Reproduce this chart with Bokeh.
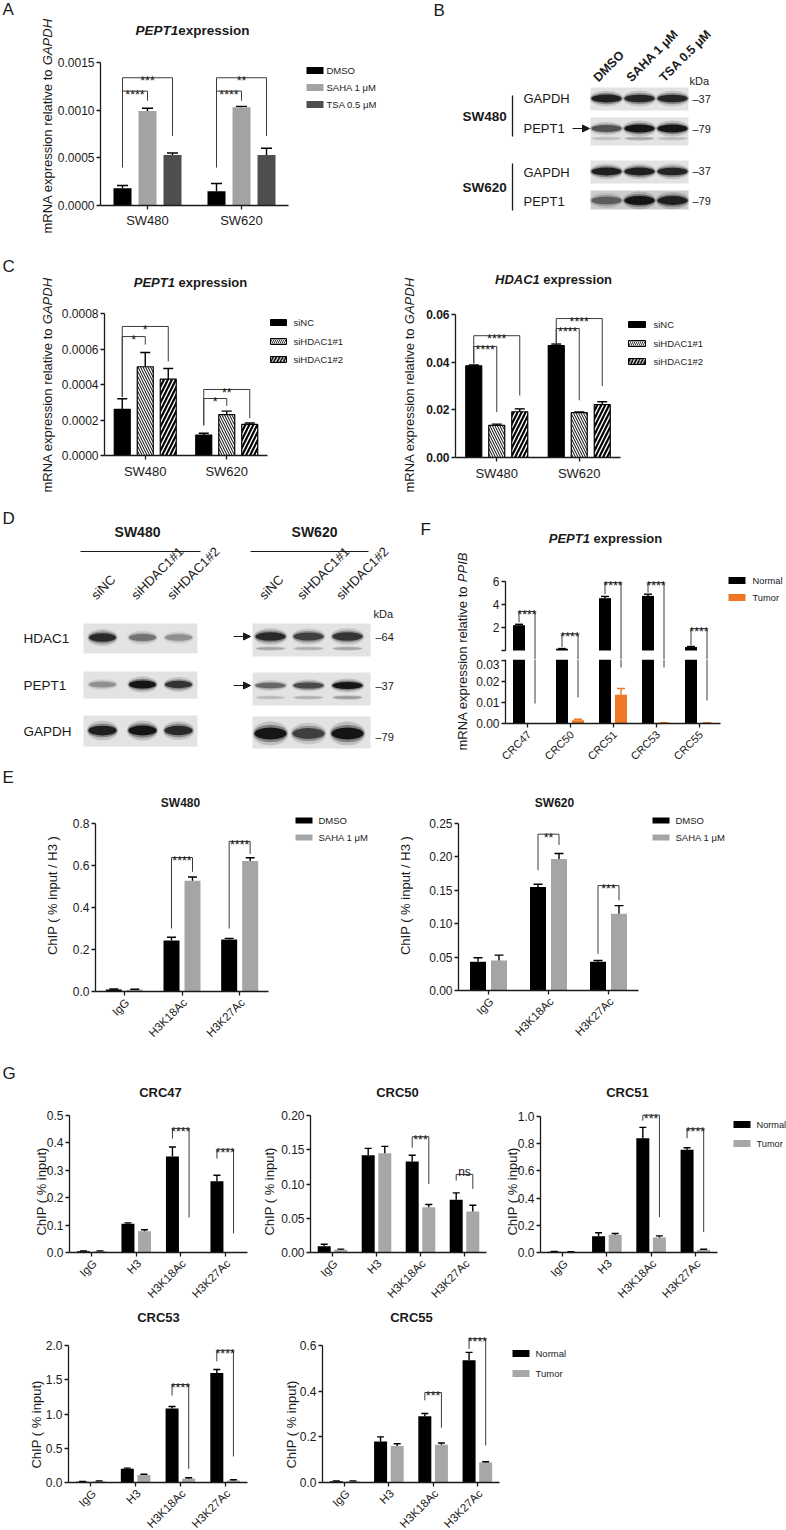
import math
from bokeh.plotting import figure
from bokeh.models import (Range1d, LinearAxis, FixedTicker, PrintfTickFormatter,
                          Label, Arrow, NormalHead)
from bokeh.layouts import row, column
from bokeh.embed import file_html
from bokeh.resources import INLINE

FONT = "Liberation Sans"
INK = "#1a1a1a"

# ======================= DATA =======================
# Panel A
A_groups = ["SW480", "SW620"]
A_series = ["DMSO", "SAHA 1 μM", "TSA 0.5 μM"]
A_dmso = [0.00018, 0.00015]
A_saha = [0.00099, 0.00103]
A_tsa = [0.00053, 0.00053]
A_dmso_err = [0.00003, 0.00008]
A_saha_err = [0.00003, 0.00001]
A_tsa_err = [0.00002, 0.00007]
A_sig = [(0, 0, 2, 0.00134, 0.00040, 0.00073, "***"), (0, 0, 1, 0.00120, 0.00040, 0.00110, "****"),
         (1, 0, 2, 0.00134, 0.00040, 0.00073, "**"), (1, 0, 1, 0.00120, 0.00040, 0.00110, "****")]

# Panel B (band darkness 0..1)
B_lanes = ["DMSO", "SAHA 1 μM", "TSA 0.5 μM"]
B_sw480_gapdh = [0.95, 0.92, 0.92]
B_sw480_pept1 = [0.70, 1.00, 1.00]
B_sw480_pept1_low = [0.18, 0.30, 0.20]
B_sw620_gapdh = [0.95, 0.95, 0.93]
B_sw620_pept1 = [0.65, 1.00, 0.95]

# Panel C
C_groups = ["SW480", "SW620"]
C_series = ["siNC", "siHDAC1#1", "siHDAC1#2"]
C1_sinc = [0.00026, 0.000115]
C1_si1 = [0.00050, 0.00023]
C1_si2 = [0.00043, 0.000175]
C1_sinc_err = [0.00006, 0.00001]
C1_si1_err = [0.00008, 0.00002]
C1_si2_err = [0.00006, 0.000008]
C1_sig = [(0, 0, 2, 0.000727, 0.00033, 0.00053, "*"), (0, 0, 1, 0.00067, 0.00033, 0.000625, "*"),
          (1, 0, 2, 0.000372, 0.00017, 0.00021, "**"), (1, 0, 1, 0.000321, 0.00017, 0.00028, "*")]
C2_sinc = [0.0385, 0.0470]
C2_si1 = [0.0135, 0.0188]
C2_si2 = [0.0192, 0.0222]
C2_sinc_err = [0.0003, 0.0006]
C2_si1_err = [0.0005, 0.0003]
C2_si2_err = [0.0012, 0.0012]
C2_sig = [(0, 0, 2, 0.0511, 0.0394, 0.0260, "****"), (0, 0, 1, 0.0466, 0.0394, 0.0190, "****"),
          (1, 0, 2, 0.0583, 0.0478, 0.0300, "****"), (1, 0, 1, 0.0541, 0.0478, 0.0240, "****")]

# Panel D (band darkness 0..1)
D_lanes = ["siNC", "siHDAC1#1", "siHDAC1#2"]
D_sw480_hdac1 = [0.90, 0.55, 0.40]
D_sw480_pept1 = [0.40, 1.00, 0.85]
D_sw480_gapdh = [0.95, 1.00, 0.90]
D_sw620_hdac1 = [0.90, 0.80, 0.85]
D_sw620_hdac1_low = [0.30, 0.25, 0.30]
D_sw620_pept1 = [0.60, 0.75, 1.00]
D_sw620_pept1_low = [0.20, 0.25, 0.35]
D_sw620_gapdh = [1.00, 0.80, 1.00]

# Panel F
F_samples = ["CRC47", "CRC50", "CRC51", "CRC53", "CRC55"]
F_series = ["Normal", "Tumor"]
F_normal = [2.20, 0.15, 4.55, 4.75, 0.30]
F_normal_err = [0.08, 0.02, 0.15, 0.15, 0.05]
F_tumor = [0.0001, 0.0015, 0.0137, 0.0003, 0.0003]
F_tumor_err = [0.0, 0.0005, 0.0030, 0.0001, 0.0001]
F_sig_top = [3.4, 1.45, 5.9, 5.9, 1.9]
F_sig_left = [2.45, 0.30, 4.90, 5.05, 0.45]
F_sig_right = [0.0095, 0.0124, 0.0267, 0.0267, 0.0110]
F_sig_text = ["****", "****", "****", "****", "****"]

# Panel E
E_targets = ["IgG", "H3K18Ac", "H3K27Ac"]
E_series = ["DMSO", "SAHA 1 μM"]
E1_dmso = [0.010, 0.243, 0.248]
E1_saha = [0.008, 0.527, 0.622]
E1_dmso_err = [0.002, 0.015, 0.005]
E1_saha_err = [0.003, 0.018, 0.015]
E1_sig = [(1, 0.638, 0.30, 0.570, "****"), (2, 0.715, 0.30, 0.655, "****")]
E2_dmso = [0.043, 0.155, 0.043]
E2_saha = [0.045, 0.197, 0.115]
E2_dmso_err = [0.006, 0.004, 0.002]
E2_saha_err = [0.008, 0.008, 0.012]
E2_sig = [(1, 0.234, 0.180, 0.218, "**"), (2, 0.157, 0.055, 0.135, "***")]

# Panel G
G_targets = ["IgG", "H3", "H3K18Ac", "H3K27Ac"]
G_series = ["Normal", "Tumor"]
G47_normal = [0.005, 0.105, 0.350, 0.260]
G47_tumor = [0.005, 0.078, 0.0, 0.0]
G47_normal_err = [0.001, 0.003, 0.035, 0.022]
G47_tumor_err = [0.001, 0.005, 0.0, 0.0]
G47_sig = [(2, 0.453, 0.416, 0.128, "****"), (3, 0.377, 0.343, 0.070, "****")]
G50_normal = [0.009, 0.142, 0.133, 0.077]
G50_tumor = [0.004, 0.145, 0.066, 0.060]
G50_normal_err = [0.003, 0.010, 0.009, 0.010]
G50_tumor_err = [0.001, 0.010, 0.004, 0.009]
G50_sig = [(2, 0.169, 0.153, 0.100, "***"), (3, 0.114, 0.105, 0.093, "ns")]
G51_normal = [0.006, 0.120, 0.840, 0.755]
G51_tumor = [0.005, 0.130, 0.110, 0.020]
G51_normal_err = [0.002, 0.025, 0.080, 0.015]
G51_tumor_err = [0.001, 0.010, 0.012, 0.004]
G51_sig = [(2, 1.01, 0.97, 0.26, "***"), (3, 0.91, 0.84, 0.15, "****")]
G53_normal = [0.010, 0.200, 1.080, 1.600]
G53_tumor = [0.020, 0.110, 0.060, 0.030]
G53_normal_err = [0.004, 0.010, 0.030, 0.050]
G53_tumor_err = [0.004, 0.010, 0.010, 0.010]
G53_sig = [(2, 1.43, 1.27, 0.20, "****"), (3, 1.93, 1.77, 0.38, "****")]
G55_normal = [0.005, 0.180, 0.290, 0.535]
G55_tumor = [0.005, 0.160, 0.165, 0.088]
G55_normal_err = [0.002, 0.020, 0.012, 0.035]
G55_tumor_err = [0.002, 0.010, 0.008, 0.003]
G55_sig = [(2, 0.394, 0.36, 0.24, "***"), (3, 0.63, 0.585, 0.162, "****")]

# ======================= HELPERS =======================
REG = {' ': 278, 'A': 667, 'B': 667, 'C': 722, 'D': 722, 'E': 667, 'G': 778, 'H': 722, 'I': 278,
       'M': 833, 'N': 722, 'P': 667, 'R': 722, 'S': 667, 'T': 611, 'a': 556, 'e': 556, 'i': 222,
       'l': 222, 'm': 833, 'n': 556, 'o': 556, 'p': 556, 'r': 333, 's': 500, 't': 278, 'v': 500,
       'x': 500, '1': 556}
BOLD = {' ': 278, 'A': 722, 'C': 722, 'D': 722, 'E': 667, 'H': 722, 'P': 667, 'T': 611, '1': 556,
        'e': 556, 'x': 556, 'p': 611, 'r': 389, 's': 556, 'i': 278, 'o': 611, 'n': 611}


def tw(s, size, bold=False):
    t = BOLD if bold else REG
    return sum(t.get(ch, 556) for ch in s) * size / 1000.0


def style_axis(ax, size, bold=False, tick=4, standoff=2):
    ax.axis_line_color = INK
    ax.axis_line_width = 1.3
    ax.major_tick_line_color = INK
    ax.major_tick_line_width = 1.3
    ax.major_tick_out = tick
    ax.major_tick_in = 0
    ax.minor_tick_line_color = None
    ax.minor_tick_out = 0
    ax.major_label_text_font = FONT
    ax.major_label_text_font_size = f"{size}px"
    ax.major_label_text_font_style = "bold" if bold else "normal"
    ax.major_label_text_color = INK
    ax.major_label_standoff = standoff


class Panel:
    """box is in page pixels; the frame fills the whole box.
    px = ox + sx*x ; py = oy - sy*y"""

    def __init__(self, box, xmap, ymap):
        self.box = box
        self.ox, self.sx = xmap
        self.oy, self.sy = ymap
        self.y0px = self.oy
        x0, y0, x1, y1 = box
        self.p = figure(width=x1 - x0, height=y1 - y0,
                        x_range=Range1d(self.dx(x0), self.dx(x1)),
                        y_range=Range1d(self.dy(y1), self.dy(y0)),
                        min_border_left=0, min_border_right=0,
                        min_border_top=0, min_border_bottom=0,
                        toolbar_location=None, output_backend="svg",
                        x_axis_location=None, y_axis_location=None)
        self.p.xgrid.visible = False
        self.p.ygrid.visible = False
        self.p.outline_line_color = None
        self.p.background_fill_color = "white"
        self.p.border_fill_color = "white"

    def dx(self, px):
        return (px - self.ox) / self.sx

    def dy(self, py):
        return (self.oy - py) / self.sy

    def px(self, x):
        return self.ox + self.sx * x

    def py(self, y):
        return self.oy - self.sy * y

    def gx(self, g, off_px):
        return g + 1 + off_px / self.sx

    def label(self, px, py, text, size, style="normal", align="left", baseline="middle",
              angle=0.0, color=INK):
        self.p.add_layout(Label(x=self.dx(px), y=self.dy(py), text=text, text_font=FONT,
                                text_font_size=f"{size}px", text_font_style=style,
                                text_align=align, text_baseline=baseline, angle=angle,
                                text_color=color))

    def mixed(self, cx, py, parts, size, space=True):
        ws = [tw(t, size, "bold" in st) for t, st in parts]
        gap = 0.278 * size if space else 0.0
        total = sum(ws) + gap * (len(parts) - 1)
        x = cx - total / 2
        for (t, st), w in zip(parts, ws):
            self.label(x, py, t, size, st, "left", "middle")
            x += w + gap

    def ylabel2(self, x, ystart, t1, t2, size):
        self.label(x, ystart, t1, size, "normal", "left", "middle", math.pi / 2)
        off = tw(t1, size) + 0.278 * size
        self.label(x, ystart - off, t2, size, "italic", "left", "middle", math.pi / 2)

    def yaxis(self, ticks, fmt, size=12, bold=False, overrides=None, top=None):
        top = top if top is not None else max(ticks) * 1.000001
        ax = LinearAxis(ticker=FixedTicker(ticks=ticks), formatter=PrintfTickFormatter(format=fmt),
                        bounds=(0, top), fixed_location=0.5)
        style_axis(ax, size, bold)
        if overrides:
            ax.major_label_overrides = overrides
        self.p.add_layout(ax, "left")

    def xaxis(self, cats, size=13, names=True, standoff=3):
        n = len(cats)
        ax = LinearAxis(ticker=FixedTicker(ticks=list(range(1, n + 1))), bounds=(0.5, n + 0.5),
                        fixed_location=0)
        ax.major_label_overrides = {i + 1: (c if names else "") for i, c in enumerate(cats)}
        style_axis(ax, size, tick=4, standoff=standoff)
        self.p.add_layout(ax, "below")

    def rot_xlabels(self, cats, size, dy=9, dx=3):
        for i, c in enumerate(cats):
            self.label(self.px(i + 1) + dx, self.y0px + dy, c, size, "normal", "right", "middle",
                       math.pi / 4)

    def bars(self, xs, tops, width_px, st):
        kw = dict(fill_color=st["fill"], line_color=st.get("line"), line_width=1.2)
        if st.get("hatch"):
            kw.update(hatch_pattern=st["hatch"], hatch_scale=st["hscale"],
                      hatch_weight=st["hweight"], hatch_color="black")
        self.p.vbar(x=xs, top=tops, bottom=0, width=width_px / self.sx, **kw)

    def errs(self, xs, tops, errs, cap_px, color="black"):
        X = [x for x, e in zip(xs, errs) if e > 0]
        T = [t for t, e in zip(tops, errs) if e > 0]
        U = [t + e for t, e in zip(tops, errs) if e > 0]
        if not X:
            return
        cw = cap_px / 2.0 / self.sx
        self.p.segment(x0=X, y0=T, x1=X, y1=U, line_color=color, line_width=1.4)
        self.p.segment(x0=[x - cw for x in X], y0=U, x1=[x + cw for x in X], y1=U,
                       line_color=color, line_width=1.4)

    def stars(self, xl, xr, ytop, text):
        cx = self.px((xl + xr) / 2)
        ty = self.py(ytop)
        if text == "ns":
            self.label(cx, ty - 2.5, text, 12, "normal", "center", "alphabetic")
        else:
            self.label(cx, ty + 3.5, text, 12.5, "normal", "center", "alphabetic")

    def bracket(self, xl, xr, ytop, yl, yr, text):
        self.p.line(x=[xl, xl, xr, xr], y=[yl, ytop, ytop, yr], line_color="#3c3c3c", line_width=1)
        self.stars(xl, xr, ytop, text)

    def legend(self, sx0, sw, sh, tx, ys, names, styles, size=9.5):
        for n, y, st in zip(names, ys, styles):
            kw = dict(fill_color=st["fill"], line_color=st.get("line"), line_width=1)
            if st.get("hatch"):
                kw.update(hatch_pattern=st["hatch"], hatch_scale=st["hscale"] * 0.8,
                          hatch_weight=st["hweight"] * 0.8, hatch_color="black")
            self.p.rect(x=[self.dx(sx0 + sw / 2)], y=[self.dy(y)], width=sw, height=sh,
                        width_units="screen", height_units="screen", **kw)
            self.label(tx, y, n, size, "normal", "left", "middle")


def chart(box, ax, ncat, y0px, ytpx, ytv):
    ppx = (ax[1] - ax[0]) / ncat
    ppy = (y0px - ytpx) / ytv
    return Panel(box, (ax[0] - 0.5 * ppx, ppx), (y0px, ppy))


def pixel_panel(box):
    return Panel(box, (0, 1), (0, -1))


def grouped(c, vals, errs, offs, width_px, styles, cap_px, err_colors=None, only=None):
    idx = only if only is not None else list(range(len(vals)))
    for s in idx:
        xs = [c.gx(g, offs[s]) for g in range(len(vals[s]))]
        c.bars(xs, vals[s], width_px, styles[s])
    for s in idx:
        xs = [c.gx(g, offs[s]) for g in range(len(vals[s]))]
        c.errs(xs, vals[s], errs[s], cap_px, color=(err_colors[s] if err_colors else "black"))


def gray_hex(level):
    v = int(round(226 - 214 * level))
    v = max(0, min(255, v))
    return "#%02x%02x%02x" % (v, v, v)


def bands(pp, lanes, by, levels, bw, bh):
    cols = [gray_hex(l) for l in levels]
    hs = [bh * (0.5 + 0.5 * l) for l in levels]
    for sw, sh, a in [(1.12, 2.0, 0.16), (1.06, 1.45, 0.35), (1.0, 1.0, 0.92)]:
        pp.p.ellipse(x=lanes, y=[by] * len(lanes), width=bw * sw, height=[h * sh for h in hs],
                     width_units="screen", height_units="screen",
                     fill_color=cols, fill_alpha=a, line_color=None)


def blot(pp, x0, x1, y0, y1, lanes, by, levels, bw, bh, bg="#e3e3e3"):
    pp.p.quad(left=[x0], right=[x1], top=[y0], bottom=[y1], fill_color=bg, line_color=None)
    bands(pp, lanes, by, levels, bw, bh)


def arrow(pp, x0, x1, y):
    pp.p.add_layout(Arrow(end=NormalHead(size=7, fill_color=INK, line_color=INK, line_width=1),
                          x_start=x0, y_start=y, x_end=x1, y_end=y, line_color=INK, line_width=1.2))


# ======================= PANEL A =======================
A = chart((0, 0, 390, 245), (100, 288), 2, 205, 62, 0.0015)
A.yaxis([0, 0.0005, 0.001, 0.0015], "%.4f", 12)
A.xaxis(A_groups, 13, standoff=3)
A_offs = [-25, 0, 25]
A_styles = [dict(fill="#000000"), dict(fill="#a3a3a3"), dict(fill="#4e4e4e")]
grouped(A, [A_dmso, A_saha, A_tsa], [A_dmso_err, A_saha_err, A_tsa_err], A_offs, 18, A_styles, 11)
for g, i, j, yt, yl, yr, t in A_sig:
    A.bracket(A.gx(g, A_offs[i]), A.gx(g, A_offs[j]), yt, yl, yr, t)
A.legend(306, 17, 7, 326, [70, 87, 104], A_series, A_styles)
A.mixed(192, 30, [("PEPT1", "bold italic"), ("expression", "bold")], 13.5, space=False)
A.label(2, 9, "A", 17)
A.ylabel2(47, 233, "mRNA expression relative to", "GAPDH", 13)

# ======================= PANEL B =======================
B = pixel_panel((390, 0, 786, 245))
B.label(433, 10, "B", 17)
lanesB = [606, 639, 672]
for name, x in zip(B_lanes, lanesB):
    B.label(x - 6, 84, name, 12.5, "bold", "left", "bottom", math.pi / 4)
B.label(689, 80, "kDa", 11)
B.label(462, 116, "SW480", 13.5, "bold")
B.label(462, 187, "SW620", 13.5, "bold")
B.p.line(x=[512, 512], y=[95, 136], line_color=INK, line_width=1.3)
B.p.line(x=[512, 512], y=[163, 210], line_color=INK, line_width=1.3)
B.label(523, 98, "GAPDH", 13)
B.label(523, 128, "PEPT1", 13)
B.label(523, 172, "GAPDH", 13)
B.label(523, 201, "PEPT1", 13)
arrow(B, 572, 589, 128)
blot(B, 590, 688, 87, 110, lanesB, 98, B_sw480_gapdh, 30, 8)
blot(B, 590, 688, 117, 145, lanesB, 128, B_sw480_pept1, 30, 8)
bands(B, lanesB, 138, B_sw480_pept1_low, 28, 4)
blot(B, 590, 688, 160, 183, lanesB, 171, B_sw620_gapdh, 30, 8)
blot(B, 590, 688, 190, 209, lanesB, 200, B_sw620_pept1, 30, 9, bg="#cdcdcd")
for y, t in [(98, "–37"), (128, "–79"), (170, "–37"), (200, "–79")]:
    B.label(692, y, t, 11)

# ======================= PANEL C =======================
C_offs = [-23, 0, 23]
C_styles = [dict(fill="#000000", line="#000000"),
            dict(fill="white", line="#000000", hatch="\\", hscale=5, hweight=1.0),
            dict(fill="white", line="#000000", hatch="/", hscale=8, hweight=2.2)]
C1 = chart((0, 245, 390, 495), (104, 267), 2, 455, 313, 0.0008)
C1.yaxis([0, 0.0002, 0.0004, 0.0006, 0.0008], "%.4f", 12)
C1.xaxis(C_groups, 13, standoff=4)
grouped(C1, [C1_sinc, C1_si1, C1_si2], [C1_sinc_err, C1_si1_err, C1_si2_err], C_offs, 16, C_styles, 10)
for g, i, j, yt, yl, yr, t in C1_sig:
    C1.bracket(C1.gx(g, C_offs[i]), C1.gx(g, C_offs[j]), yt, yl, yr, t)
C1.legend(270, 16, 6, 293, [322, 341, 359], C_series, C_styles)
C1.mixed(190, 282, [("PEPT1", "bold italic"), ("expression", "bold")], 13)
C1.label(2, 266, "C", 17)
C1.ylabel2(47, 492, "mRNA expression relative to", "GAPDH", 13)

C2 = chart((390, 245, 786, 495), (455, 620), 2, 457, 314, 0.06)
C2.yaxis([0, 0.02, 0.04, 0.06], "%.2f", 12, bold=True)
C2.xaxis(C_groups, 13, standoff=4)
grouped(C2, [C2_sinc, C2_si1, C2_si2], [C2_sinc_err, C2_si1_err, C2_si2_err], C_offs, 16, C_styles, 10)
for g, i, j, yt, yl, yr, t in C2_sig:
    C2.bracket(C2.gx(g, C_offs[i]), C2.gx(g, C_offs[j]), yt, yl, yr, t)
C2.legend(628, 17, 6, 653, [324, 343, 361], C_series, C_styles)
C2.mixed(553, 279, [("HDAC1", "bold italic"), ("expression", "bold")], 13)
C2.ylabel2(409, 492, "mRNA expression relative to", "GAPDH", 13)

# ======================= PANEL D =======================
D = pixel_panel((0, 495, 400, 765))
D.label(2, 518, "D", 17)
D.label(137, 531, "SW480", 14, "bold", "center")
D.label(314, 531, "SW620", 14, "bold", "center")
D.p.line(x=[80, 200], y=[551, 551], line_color=INK, line_width=1.2)
D.p.line(x=[250, 368], y=[551, 551], line_color=INK, line_width=1.2)
lanesD1 = [102, 142, 178]
lanesD2 = [270, 308, 347]
for lanes in (lanesD1, lanesD2):
    for name, x in zip(D_lanes, lanes):
        D.label(x - 4, 602, name, 13, "normal", "left", "bottom", math.pi / 4)
D.label(373, 613, "kDa", 11)
D.label(23, 638, "HDAC1", 13.5)
D.label(23, 685, "PEPT1", 13.5)
D.label(23, 731, "GAPDH", 13.5)
blot(D, 83, 197, 623, 653, lanesD1, 637, D_sw480_hdac1, 27, 9)
blot(D, 83, 197, 671, 698, lanesD1, 684, D_sw480_pept1, 27, 8)
blot(D, 83, 197, 715, 746, lanesD1, 730, D_sw480_gapdh, 28, 10)
blot(D, 252, 370, 623, 656, lanesD2, 636, D_sw620_hdac1, 30, 9)
bands(D, lanesD2, 648, D_sw620_hdac1_low, 28, 4)
blot(D, 252, 370, 672, 705, lanesD2, 685, D_sw620_pept1, 30, 7)
bands(D, lanesD2, 697, D_sw620_pept1_low, 28, 4)
blot(D, 252, 370, 716, 748, lanesD2, 733, D_sw620_gapdh, 32, 12)
arrow(D, 233, 250, 636)
arrow(D, 233, 250, 685)
for y, t in [(636, "–64"), (685, "–37"), (736, "–79")]:
    D.label(375, y, t, 11)

# ======================= PANEL F =======================
Flab = pixel_panel((400, 495, 470, 765))
Flab.label(420, 529, "F", 17)
Flab.ylabel2(462, 750, "mRNA expression relative to", "PPIB", 13)

F_offs = [-8, 8]
F_styles = [dict(fill="#000000"), dict(fill="#ef7622")]
Ft = chart((470, 495, 786, 659), (505, 720), 5, 650, 581, 6)
Ft.yaxis([0, 2, 4, 6], "%d", 12, overrides={0: ""})
Fb = chart((470, 659, 786, 765), (505, 720), 5, 723, 660, 0.03)
Fb.yaxis([0, 0.01, 0.02, 0.03], "%.2f", 12, top=Fb.dy(659))
Fb.xaxis(F_samples, names=False)
Fb.rot_xlabels(F_samples, 11, dy=9, dx=2)
# upper (broken-axis) segment: only the Normal series reaches it
grouped(Ft, [F_normal, F_tumor], [F_normal_err, F_tumor_err], F_offs, 12, F_styles, 8,
        err_colors=["black", "#ef7622"], only=[0])
grouped(Fb, [F_normal, F_tumor], [F_normal_err, F_tumor_err], F_offs, 12, F_styles, 8,
        err_colors=["black", "#ef7622"])
for k in range(len(F_samples)):
    xl, xr = Ft.gx(k, F_offs[0]), Ft.gx(k, F_offs[1])
    Ft.bracket(xl, xr, F_sig_top[k], F_sig_left[k], Ft.dy(659), F_sig_text[k])
    Fb.p.line(x=[xr, xr], y=[Fb.dy(659), F_sig_right[k]], line_color="#3c3c3c", line_width=1)
Ft.legend(728, 17, 7, 752, [580, 597], F_series, F_styles, size=9.3)
Ft.mixed(605, 538, [("PEPT1", "bold italic"), ("expression", "bold")], 13)

# ======================= PANEL E =======================
E_offs = [-10.5, 10.5]
E_styles = [dict(fill="#000000"), dict(fill="#a5a5a7")]
E1 = chart((0, 765, 390, 1045), (95, 268), 3, 991, 823, 0.8)
E1.yaxis([0, 0.2, 0.4, 0.6, 0.8], "%.1f", 12)
E1.xaxis(E_targets, names=False)
E1.rot_xlabels(E_targets, 11.5)
grouped(E1, [E1_dmso, E1_saha], [E1_dmso_err, E1_saha_err], E_offs, 16, E_styles, 9)
for g, yt, yl, yr, t in E1_sig:
    E1.bracket(E1.gx(g, E_offs[0]), E1.gx(g, E_offs[1]), yt, yl, yr, t)
E1.legend(295, 17, 6, 318, [820, 837], E_series, E_styles)
E1.label(180, 802, "SW480", 12, "bold", "center")
E1.label(2, 777, "E", 17)
E1.label(52, 895, "ChIP ( % input / H3 )", 13, "normal", "center", "middle", math.pi / 2)

E2 = chart((390, 765, 786, 1045), (458, 638), 3, 990, 823, 0.25)
E2.yaxis([0, 0.05, 0.1, 0.15, 0.2, 0.25], "%.2f", 12)
E2.xaxis(E_targets, names=False)
E2.rot_xlabels(E_targets, 11.5)
grouped(E2, [E2_dmso, E2_saha], [E2_dmso_err, E2_saha_err], E_offs, 16, E_styles, 9)
for g, yt, yl, yr, t in E2_sig:
    E2.bracket(E2.gx(g, E_offs[0]), E2.gx(g, E_offs[1]), yt, yl, yr, t)
E2.legend(652, 17, 6, 675, [820, 837], E_series, E_styles)
E2.label(554, 802, "SW620", 12, "bold", "center")
E2.label(405, 895, "ChIP ( % input / H3 )", 13, "normal", "center", "middle", math.pi / 2)

# ======================= PANEL G =======================
G_offs = [-8.3, 8.3]
G_styles = [dict(fill="#000000"), dict(fill="#a7a7a9")]


def gpanel(box, ax, y0px, ytpx, ytv, ticks, fmt, normal, tumor, nerr, terr, sig,
           title, tpos, ylx, yly):
    c = chart(box, ax, 4, y0px, ytpx, ytv)
    c.yaxis(ticks, fmt, 12)
    c.xaxis(G_targets, names=False)
    c.rot_xlabels(G_targets, 11.5)
    grouped(c, [normal, tumor], [nerr, terr], G_offs, 13, G_styles, 7)
    for g, yt, yl, yr, t in sig:
        c.bracket(c.gx(g, G_offs[0]), c.gx(g, G_offs[1]), yt, yl, yr, t)
    c.label(tpos[0], tpos[1], title, 13, "bold", "center")
    c.label(ylx, yly, "ChIP ( % input)", 13, "normal", "center", "middle", math.pi / 2)
    return c


G47 = gpanel((0, 1045, 255, 1303), (69, 247), 1252, 1115, 0.5,
             [0, 0.1, 0.2, 0.3, 0.4, 0.5], "%.1f", G47_normal, G47_tumor, G47_normal_err,
             G47_tumor_err, G47_sig, "CRC47", (160, 1092), 41, 1191)
G47.label(2, 1073, "G", 17)
G50 = gpanel((255, 1045, 500, 1303), (310, 486), 1252, 1115, 0.2,
             [0, 0.05, 0.1, 0.15, 0.2], "%.2f", G50_normal, G50_tumor, G50_normal_err,
             G50_tumor_err, G50_sig, "CRC50", (397, 1092), 269, 1191)
G51 = gpanel((500, 1045, 786, 1303), (540, 717), 1252, 1116, 1.0,
             [0, 0.2, 0.4, 0.6, 0.8, 1.0], "%.1f", G51_normal, G51_tumor, G51_normal_err,
             G51_tumor_err, G51_sig, "CRC51", (627, 1092), 512, 1191)
G51.legend(733, 17, 7, 756, [1124, 1143], G_series, G_styles, size=9.2)
G53 = gpanel((0, 1303, 255, 1530), (68, 247), 1482, 1345, 2.0,
             [0, 0.5, 1.0, 1.5, 2.0], "%.1f", G53_normal, G53_tumor, G53_normal_err,
             G53_tumor_err, G53_sig, "CRC53", (158, 1317), 36, 1424)
G55 = gpanel((255, 1303, 786, 1530), (322, 499), 1482, 1345, 0.6,
             [0, 0.2, 0.4, 0.6], "%.1f", G55_normal, G55_tumor, G55_normal_err,
             G55_tumor_err, G55_sig, "CRC55", (411, 1317), 291, 1424)
G55.legend(512, 17, 7, 535, [1353, 1373], G_series, G_styles)

# ======================= LAYOUT =======================
layout = column(
    row(A.p, B.p),
    row(C1.p, C2.p),
    row(D.p, Flab.p, column(Ft.p, Fb.p)),
    row(E1.p, E2.p),
    row(G47.p, G50.p, G51.p),
    row(G53.p, G55.p),
)
open("out.html", "w").write(file_html(layout, INLINE))
